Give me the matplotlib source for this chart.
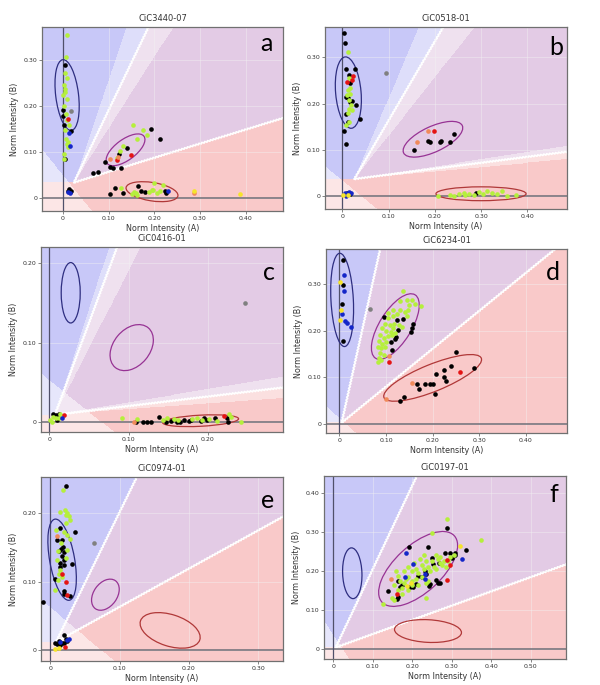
import numpy as np
import matplotlib
matplotlib.use("Agg")
import matplotlib.pyplot as plt
from matplotlib.patches import Ellipse

# ---------------- data ----------------
TITLES = ["CiC3440-07", "CiC0518-01", "CiC0416-01", "CiC6234-01", "CiC0974-01", "CiC0197-01"]
LETTERS = ["a", "b", "c", "d", "e", "f"]

# panel a
A_BLACK = [(0.004, 0.289), (0.001, 0.192), (0.001, 0.178), (0.002, 0.160), (0.018, 0.147), (0.005, 0.086),
           (0.014, 0.020), (0.018, 0.016), (0.015, 0.013), (0.011, 0.015), (0.066, 0.055), (0.076, 0.056),
           (0.093, 0.078), (0.104, 0.067), (0.110, 0.065), (0.128, 0.066), (0.122, 0.097), (0.141, 0.108),
           (0.192, 0.150), (0.212, 0.128), (0.131, 0.012), (0.104, 0.009), (0.115, 0.021), (0.165, 0.026),
           (0.170, 0.016), (0.180, 0.014), (0.224, 0.015), (0.226, 0.011)]
A_GREEN = [(0.008, 0.355), (0.006, 0.306), (0.004, 0.272), (0.008, 0.262), (0.002, 0.246), (0.004, 0.237),
           (0.005, 0.230), (0.001, 0.225), (0.008, 0.216), (0.003, 0.200), (0.006, 0.183), (0.009, 0.170),
           (0.013, 0.160), (0.005, 0.148), (0.007, 0.128), (0.012, 0.123), (0.009, 0.117), (0.011, 0.112),
           (0.003, 0.096), (0.002, 0.084), (0.153, 0.160), (0.175, 0.148), (0.184, 0.138), (0.163, 0.129),
           (0.132, 0.113), (0.124, 0.103), (0.118, 0.088), (0.128, 0.023), (0.155, 0.014), (0.160, 0.012),
           (0.152, 0.009), (0.162, 0.006), (0.199, 0.032), (0.197, 0.018), (0.205, 0.012), (0.213, 0.015),
           (0.218, 0.028), (0.188, 0.014), (0.195, 0.017)]
A_RED = [(0.010, 0.173), (0.118, 0.082), (0.150, 0.094)]
A_ORANGE = [(0.103, 0.086), (0.120, 0.090), (0.288, 0.011)]
A_BLUE = [(0.013, 0.141), (0.016, 0.113), (0.012, 0.013), (0.015, 0.012), (0.229, 0.016)]
A_YELLOW = [(0.387, 0.010), (0.288, 0.015)]
A_GRAY = [(0.018, 0.190)]
A_ELLIPSES = [(0.009, 0.224, 0.155, 0.050, 97), (0.137, 0.105, 0.100, 0.045, 36), (0.195, 0.014, 0.115, 0.040, -9)]

# panel b
B_BLACK = [(0.004, 0.354), (0.006, 0.332), (0.009, 0.276), (0.015, 0.262), (0.027, 0.276), (0.017, 0.245),
           (0.007, 0.214), (0.013, 0.212), (0.017, 0.204), (0.020, 0.206), (0.030, 0.197), (0.009, 0.177),
           (0.012, 0.161), (0.038, 0.166), (0.004, 0.141), (0.007, 0.112), (0.154, 0.099), (0.186, 0.119),
           (0.190, 0.118), (0.212, 0.116), (0.213, 0.119), (0.232, 0.116), (0.242, 0.135), (0.290, 0.006),
           (0.010, 0.006), (0.016, 0.004)]
B_GREEN = [(0.013, 0.311), (0.015, 0.255), (0.017, 0.235), (0.013, 0.229), (0.017, 0.222), (0.011, 0.219),
           (0.015, 0.208), (0.018, 0.197), (0.015, 0.188), (0.020, 0.186), (0.013, 0.179), (0.009, 0.154),
           (0.015, 0.161), (0.206, 0.000), (0.233, 0.003), (0.242, 0.001), (0.252, 0.005), (0.263, 0.006),
           (0.266, 0.003), (0.273, 0.005), (0.284, 0.003), (0.295, 0.008), (0.304, 0.004), (0.313, 0.010),
           (0.324, 0.006), (0.334, 0.005), (0.345, 0.010), (0.357, 0.001), (0.376, 0.003)]
B_RED = [(0.024, 0.260), (0.020, 0.251), (0.011, 0.247), (0.199, 0.140)]
B_ORANGE = [(0.186, 0.140), (0.161, 0.118)]
B_BLUE = [(0.006, 0.006), (0.009, 0.004), (0.015, 0.008), (0.018, 0.006), (0.008, 0.001)]
B_YELLOW = [(0.002, 0.003), (0.013, 0.003)]
B_GRAY = [(0.095, 0.267)]
B_ELLIPSES = [(0.013, 0.224, 0.155, 0.055, 95), (0.196, 0.123, 0.140, 0.055, 25), (0.300, 0.005, 0.195, 0.030, 0)]

# panel c
C_BLACK = [(0.005, 0.010), (0.009, 0.009), (0.012, 0.010), (0.010, 0.003), (0.109, 0.000), (0.118, 0.000),
           (0.123, 0.000), (0.128, 0.000), (0.139, 0.007), (0.147, 0.000), (0.153, 0.002), (0.161, 0.000),
           (0.165, 0.001), (0.170, 0.003), (0.176, 0.002), (0.179, 0.003), (0.191, 0.002), (0.195, 0.006),
           (0.199, 0.003), (0.209, 0.006), (0.224, 0.005), (0.226, 0.000)]
C_GREEN = [(0.001, 0.003), (0.005, 0.007), (0.008, 0.005), (0.003, 0.001), (0.014, 0.011), (0.012, 0.006),
           (0.092, 0.006), (0.111, 0.004), (0.144, 0.003), (0.148, 0.006), (0.157, 0.004), (0.163, 0.003),
           (0.180, 0.004), (0.186, 0.005), (0.193, 0.003), (0.201, 0.004), (0.212, 0.002), (0.227, 0.011),
           (0.229, 0.007), (0.242, 0.000)]
C_RED = [(0.018, 0.009), (0.220, 0.008)]
C_ORANGE = [(0.107, 0.000)]
C_BLUE = [(0.016, 0.005)]
C_YELLOW = []
C_GRAY = [(0.2476, 0.150)]
C_ELLIPSES = [(0.027, 0.163, 0.076, 0.024, 90), (0.104, 0.094, 0.065, 0.046, 50), (0.191, 0.002, 0.096, 0.014, 3)]

# panel d
D_BLACK = [(0.008, 0.352), (0.007, 0.297), (0.006, 0.258), (0.008, 0.177), (0.095, 0.229), (0.124, 0.222),
           (0.126, 0.202), (0.122, 0.186), (0.120, 0.182), (0.111, 0.176), (0.113, 0.158), (0.136, 0.226),
           (0.157, 0.215), (0.156, 0.206), (0.154, 0.198), (0.249, 0.154), (0.239, 0.124), (0.224, 0.115),
           (0.224, 0.100), (0.228, 0.093), (0.207, 0.107), (0.200, 0.086), (0.195, 0.086), (0.184, 0.086),
           (0.166, 0.086), (0.171, 0.076), (0.206, 0.065), (0.138, 0.058), (0.131, 0.049), (0.288, 0.121)]
D_GREEN = [(0.136, 0.286), (0.131, 0.263), (0.145, 0.265), (0.150, 0.255), (0.156, 0.265), (0.163, 0.257),
           (0.175, 0.252), (0.148, 0.245), (0.130, 0.245), (0.115, 0.245), (0.104, 0.239), (0.105, 0.228),
           (0.115, 0.232), (0.123, 0.236), (0.140, 0.240), (0.145, 0.232), (0.098, 0.215), (0.108, 0.212),
           (0.118, 0.215), (0.128, 0.213), (0.135, 0.208), (0.092, 0.205), (0.100, 0.200), (0.110, 0.198),
           (0.115, 0.205), (0.120, 0.196), (0.088, 0.190), (0.095, 0.185), (0.104, 0.188), (0.112, 0.190),
           (0.085, 0.177), (0.092, 0.172), (0.100, 0.176), (0.082, 0.165), (0.090, 0.162), (0.098, 0.165),
           (0.088, 0.152), (0.095, 0.148), (0.086, 0.142), (0.082, 0.133), (0.090, 0.138)]
D_RED = [(0.106, 0.132), (0.258, 0.111)]
D_ORANGE = [(0.156, 0.088), (0.099, 0.054), (0.106, 0.146)]
D_BLUE = [(0.011, 0.320), (0.009, 0.286), (0.006, 0.236), (0.013, 0.220), (0.016, 0.216), (0.024, 0.208)]
D_YELLOW = [(0.002, 0.305), (0.004, 0.244), (0.001, 0.224)]
D_GRAY = [(0.066, 0.246)]
D_ELLIPSES = [(0.006, 0.266, 0.200, 0.048, 93), (0.120, 0.209, 0.160, 0.068, 58), (0.200, 0.099, 0.225, 0.058, 22)]

# panel e
E_BLACK = [(0.023, 0.239), (0.0145, 0.178), (0.035, 0.172), (0.009, 0.160), (0.017, 0.161), (0.016, 0.147),
           (0.018, 0.150), (0.012, 0.144), (0.020, 0.143), (0.017, 0.137), (0.0145, 0.127), (0.020, 0.131),
           (0.0135, 0.121), (0.020, 0.124), (0.031, 0.126), (0.007, 0.104), (0.019, 0.086), (0.020, 0.082),
           (0.028, 0.079), (-0.010, 0.070), (0.006, 0.011), (0.012, 0.013), (0.0145, 0.008), (0.017, 0.011),
           (0.019, 0.022), (0.022, 0.016), (0.024, 0.013), (0.019, 0.010), (0.010, 0.009)]
E_GREEN = [(0.018, 0.234), (0.0145, 0.201), (0.0217, 0.204), (0.024, 0.200), (0.0265, 0.195), (0.023, 0.197),
           (0.029, 0.190), (0.022, 0.186), (0.0087, 0.176), (0.019, 0.172), (0.024, 0.168), (0.029, 0.162),
           (0.011, 0.144), (0.009, 0.132), (0.022, 0.134), (0.0135, 0.117), (0.012, 0.111), (0.017, 0.107),
           (0.0106, 0.103), (0.006, 0.088), (0.015, 0.157), (0.024, 0.146)]
E_RED = [(0.017, 0.111), (0.022, 0.099), (0.024, 0.080), (0.0217, 0.0054)]
E_ORANGE = [(0.009, 0.167)]
E_BLUE = [(0.0145, 0.0127), (0.024, 0.015), (0.0265, 0.016)]
E_YELLOW = [(0.006, 0.0024), (0.012, 0.004)]
E_GRAY = [(0.0627, 0.157)]
E_ELLIPSES = [(0.017, 0.132, 0.120, 0.036, 100), (0.0795, 0.081, 0.050, 0.034, 55), (0.173, 0.029, 0.090, 0.046, -18)]

# panel f
F_BLACK = [(0.287, 0.311), (0.191, 0.260), (0.240, 0.261), (0.249, 0.233), (0.253, 0.217), (0.268, 0.220),
           (0.283, 0.245), (0.295, 0.245), (0.308, 0.245), (0.308, 0.240), (0.301, 0.233), (0.336, 0.254),
           (0.139, 0.149), (0.165, 0.173), (0.168, 0.159), (0.162, 0.129), (0.164, 0.133), (0.175, 0.165),
           (0.194, 0.160), (0.202, 0.159), (0.209, 0.167), (0.215, 0.188), (0.224, 0.185), (0.232, 0.201),
           (0.234, 0.192), (0.243, 0.162), (0.245, 0.167), (0.260, 0.176), (0.266, 0.170), (0.270, 0.168)]
F_GREEN = [(0.287, 0.333), (0.250, 0.296), (0.375, 0.278), (0.125, 0.115), (0.235, 0.130), (0.150, 0.130),
           (0.160, 0.200), (0.165, 0.186), (0.170, 0.175), (0.180, 0.200), (0.190, 0.210), (0.200, 0.200),
           (0.205, 0.220), (0.210, 0.205), (0.215, 0.195), (0.220, 0.230), (0.225, 0.215), (0.230, 0.240),
           (0.235, 0.225), (0.240, 0.210), (0.245, 0.200), (0.250, 0.225), (0.255, 0.210), (0.260, 0.240),
           (0.265, 0.230), (0.270, 0.220), (0.275, 0.215), (0.280, 0.225), (0.285, 0.210), (0.290, 0.225),
           (0.295, 0.235), (0.305, 0.240), (0.180, 0.170), (0.185, 0.180), (0.190, 0.185), (0.200, 0.175),
           (0.210, 0.180), (0.215, 0.165), (0.225, 0.185), (0.235, 0.170), (0.155, 0.165), (0.165, 0.150),
           (0.175, 0.155), (0.190, 0.150), (0.200, 0.165), (0.230, 0.205), (0.260, 0.205), (0.270, 0.235),
           (0.240, 0.175), (0.175, 0.140), (0.155, 0.125)]
F_RED = [(0.287, 0.228), (0.296, 0.216), (0.287, 0.177), (0.162, 0.141)]
F_ORANGE = [(0.145, 0.180)]
F_BLUE = [(0.184, 0.246), (0.202, 0.217), (0.182, 0.184), (0.233, 0.179), (0.325, 0.231), (0.233, 0.193)]
F_YELLOW = [(0.187, 0.162), (0.322, 0.263), (0.196, 0.168)]
F_GRAY = []
F_ELLIPSES = [(0.048, 0.194, 0.130, 0.049, 92), (0.215, 0.205, 0.250, 0.120, 43), (0.240, 0.046, 0.170, 0.058, -3)]

POINTS = [
    (A_BLACK, A_GREEN, A_RED, A_ORANGE, A_BLUE, A_YELLOW, A_GRAY),
    (B_BLACK, B_GREEN, B_RED, B_ORANGE, B_BLUE, B_YELLOW, B_GRAY),
    (C_BLACK, C_GREEN, C_RED, C_ORANGE, C_BLUE, C_YELLOW, C_GRAY),
    (D_BLACK, D_GREEN, D_RED, D_ORANGE, D_BLUE, D_YELLOW, D_GRAY),
    (E_BLACK, E_GREEN, E_RED, E_ORANGE, E_BLUE, E_YELLOW, E_GRAY),
    (F_BLACK, F_GREEN, F_RED, F_ORANGE, F_BLUE, F_YELLOW, F_GRAY),
]
ELLIPSES = [A_ELLIPSES, B_ELLIPSES, C_ELLIPSES, D_ELLIPSES, E_ELLIPSES, F_ELLIPSES]

# ---------------- layout / region geometry ----------------
# axes rect in pixels: left, top, right, bottom
RECTS = [(42, 27, 283, 211), (325, 27, 567, 209),
         (41, 247, 283, 432), (326, 249, 567, 433),
         (41, 477, 283, 661), (324, 476, 566, 659)]
XLIMS = [(-0.046, 0.482), (-0.0375, 0.486), (-0.0105, 0.295), (-0.0286, 0.488), (-0.0135, 0.336), (-0.0237, 0.590)]
YLIMS = [(-0.028, 0.372), (-0.028, 0.366), (-0.0122, 0.2206), (-0.019, 0.375), (-0.0156, 0.2525), (-0.0256, 0.443)]
XTICKS = [[0, 0.1, 0.2, 0.3, 0.4], [0, 0.1, 0.2, 0.3, 0.4], [0, 0.1, 0.2], [0, 0.1, 0.2, 0.3, 0.4],
          [0, 0.1, 0.2, 0.3], [0, 0.1, 0.2, 0.3, 0.4, 0.5]]
YTICKS = [[0, 0.1, 0.2, 0.3], [0, 0.1, 0.2, 0.3], [0, 0.1, 0.2], [0, 0.1, 0.2, 0.3],
          [0, 0.1, 0.2], [0, 0.1, 0.2, 0.3, 0.4]]
# apex, upper angle, lower angle (deg), band widths (blue, purple-hi, purple-lo, pink)
APEX = [(0.024, 0.034), (0.026, 0.037), (0.007, 0.0094), (0.005, 0.003), (0.0082, 0.0122), (0.006, 0.004)]
ANG_HI = [64.2, 59.7, 69.6, 77.5, 64.1, 64.9]
ANG_LO = [17.0, 7.3, 6.8, 39.1, 29.1, 20.0]
BANDS = [(7, 7, 0, 0), (7.4, 8, 1.5, 2), (2.5, 6.7, 2.7, 2.6), (0, 0, 0, 0), (0, 0, 0, 0), (0, 0, 0, 0)]
# no-call boundary: two points (left edge, bottom edge)
NOCALL = [((-0.046, 0.105), (0.064, -0.03)), ((-0.0375, 0.064), (0.074, -0.028)),
          ((-0.0105, 0.061), (0.081, -0.012)), ((-0.0286, 0.038), (0.034, -0.019)),
          ((-0.0135, 0.0735), (0.0916, -0.0156)), ((-0.0237, 0.07), (0.039, -0.0256))]
LETTER_POS = [(0.93, 0.91), (0.955, 0.89), (0.94, 0.86), (0.94, 0.87), (0.938, 0.875), (0.95, 0.90)]

C_BLUE_BG = np.array([200, 200, 248]) / 255
C_BLUE_BAND = np.array([222, 222, 250]) / 255
C_PURP_BG = np.array([227, 203, 229]) / 255
C_PURP_BAND = np.array([239, 225, 239]) / 255
C_PINK_BG = np.array([249, 201, 201]) / 255
C_PINK_BAND = np.array([251, 224, 224]) / 255

DOT_COLORS = ["#000000", "#b5ef3c", "#e41414", "#f08a5a", "#1426c8", "#f6e42a", "#808080"]
ELL_COLORS = ["#2e2e80", "#973394", "#b03838"]

W, H = 600, 685
fig = plt.figure(figsize=(W / 100, H / 100), dpi=100)
plt.rcParams['font.family'] = 'DejaVu Sans'


def background(i):
    x0, x1 = XLIMS[i]
    y0, y1 = YLIMS[i]
    nx, ny = 480, 360
    X, Y = np.meshgrid(np.linspace(x0, x1, nx), np.linspace(y0, y1, ny))
    ax_, ay_ = APEX[i]
    dx, dy = X - ax_, Y - ay_
    th = np.degrees(np.arctan2(dy, dx))
    th[(dx < 0) & (dy < 0)] = -90
    hi, lo = ANG_HI[i], ANG_LO[i]
    bb, bph, bpl, bpk = BANDS[i]
    img = np.empty((ny, nx, 3))
    img[:] = C_PURP_BG
    img[th > hi] = C_BLUE_BAND
    img[th > hi + bb] = C_BLUE_BG
    img[(th <= hi) & (th > hi - bph)] = C_PURP_BAND
    img[(th <= lo + bpl) & (th > lo)] = C_PURP_BAND
    img[th <= lo] = C_PINK_BAND
    img[th <= lo - bpk] = C_PINK_BG
    (px1, py1), (px2, py2) = NOCALL[i]
    slope = (py2 - py1) / (px2 - px1)
    nc = (Y - py1) < slope * (X - px1)
    img[nc] = img[nc] * 0.45 + 0.55
    return img


for i in range(6):
    l, t, r, b = RECTS[i]
    ax = fig.add_axes([l / W, 1 - b / H, (r - l) / W, (b - t) / H])
    x0, x1 = XLIMS[i]
    y0, y1 = YLIMS[i]
    ax.imshow(background(i), origin='lower', extent=(x0, x1, y0, y1), aspect='auto',
              interpolation='nearest', zorder=0)

    # white boundary lines (jagged like the original rasterised edges)
    ax_, ay_ = APEX[i]
    for ang in (ANG_HI[i], ANG_LO[i]):
        rr = 0.7
        ex = ax_ + rr * np.cos(np.radians(ang))
        ey = ay_ + rr * np.sin(np.radians(ang))
        ln, = ax.plot([ax_, ex], [ay_, ey], color='white', lw=1.2, zorder=1)
        ln.set_sketch_params(0.8, 3.0, 1.0)

    ax.axhline(0, color='#6e6e78', lw=1.1, zorder=2)
    ax.axvline(0, color='#50506a', lw=0.9, zorder=2)

    for (cx, cy, w, h, ang), col in zip(ELLIPSES[i], ELL_COLORS):
        ax.add_patch(Ellipse((cx, cy), w, h, angle=ang, fill=False, ec=col, lw=0.9, zorder=2.5))

    for pts, col in zip(POINTS[i], DOT_COLORS):
        if pts:
            p = np.array(pts)
            ax.scatter(p[:, 0], p[:, 1], s=11, c=col, linewidths=0, zorder=3)

    ax.set_xlim(x0, x1)
    ax.set_ylim(y0, y1)
    ax.set_xticks(XTICKS[i])
    ax.set_yticks(YTICKS[i])
    ax.set_xticklabels(["0" if v == 0 else f"{v:.2f}" for v in XTICKS[i]])
    ax.set_yticklabels(["0" if v == 0 else f"{v:.2f}" for v in YTICKS[i]])
    ax.tick_params(labelsize=4.5, length=2, width=0.5, colors='#555555', labelcolor='#333333', pad=1.5)
    ax.grid(True, color='#f2f2f2', lw=0.5, alpha=0.6)
    for s in ax.spines.values():
        s.set_color('#707070')
        s.set_linewidth(0.9)

    ax.set_title(TITLES[i], fontsize=6, color='#333333', pad=4)
    ax.set_xlabel("Norm Intensity (A)", fontsize=5.8, color='#333333', labelpad=2)
    ax.set_ylabel("Norm Intensity (B)", fontsize=5.8, color='#333333', labelpad=3)
    ax.text(LETTER_POS[i][0], LETTER_POS[i][1], LETTERS[i], transform=ax.transAxes,
            fontsize=18, family='Lato', ha='center', va='center', color='black', zorder=5)

fig.savefig("out.png", dpi=100)
